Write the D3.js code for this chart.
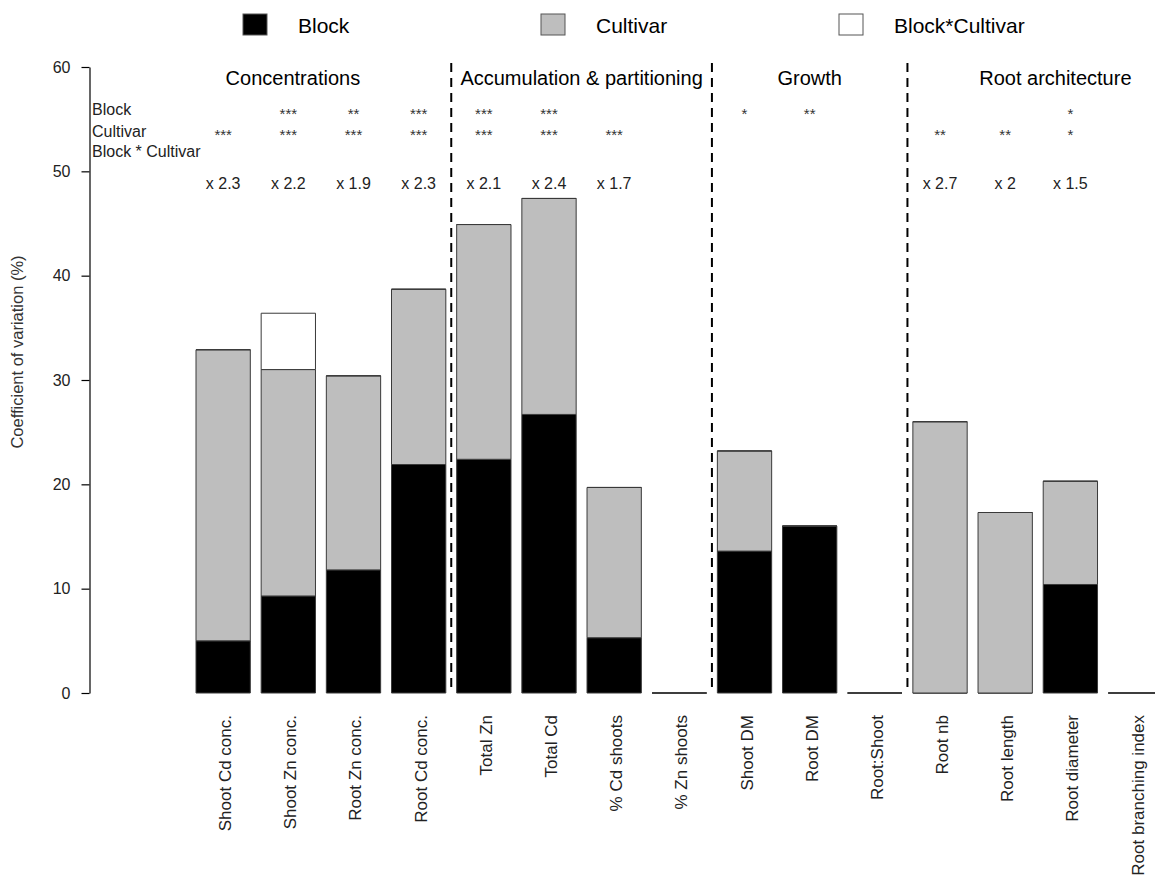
<!DOCTYPE html>
<html>
<head>
<meta charset="utf-8">
<script src="https://cdn.jsdelivr.net/npm/d3@7"></script>
<style>
  html, body { margin: 0; padding: 0; background: #fff; }
  svg { display: block; font-family: "Liberation Sans", Arial, sans-serif; }
</style>
</head>
<body>
<svg id="chart" width="1155" height="880"></svg>
<script>
// ---------- data ----------
const categories = ["Shoot Cd conc.", "Shoot Zn conc.", "Root Zn conc.", "Root Cd conc.",
  "Total Zn", "Total Cd", "% Cd shoots", "% Zn shoots",
  "Shoot DM", "Root DM", "Root:Shoot",
  "Root nb", "Root length", "Root diameter", "Root branching index"];
const blockCV       = [5.0, 9.3, 11.8, 21.9, 22.4, 26.7, 5.3, 0, 13.6, 16.0, 0, 0, 0, 10.4, 0];
const cultivarCV    = [27.9, 21.7, 18.6, 16.8, 22.5, 20.7, 14.4, 0, 9.6, 0, 0, 26.0, 17.3, 9.9, 0];
const interactionCV = [0, 5.4, 0, 0, 0, 0, 0, 0, 0, 0, 0, 0, 0, 0, 0];
const blockSig      = ["", "***", "**", "***", "***", "***", "", "", "*", "**", "", "", "", "*", ""];
const cultivarSig   = ["***", "***", "***", "***", "***", "***", "***", "", "", "", "", "**", "**", "*", ""];
const foldChange    = ["x 2.3", "x 2.2", "x 1.9", "x 2.3", "x 2.1", "x 2.4", "x 1.7", "", "", "", "", "x 2.7", "x 2", "x 1.5", ""];
const groupNames    = ["Concentrations", "Accumulation & partitioning", "Growth", "Root architecture"];
const groupSizes    = [4, 4, 3, 4];
const seriesNames   = ["Block", "Cultivar", "Block*Cultivar"];
const seriesColors  = ["#000000", "#bebebe", "#ffffff"];
const rowLabels     = ["Block", "Cultivar", "Block * Cultivar"];
const yTicks        = [0, 10, 20, 30, 40, 50, 60];

// ---------- layout ----------
const svg = d3.select("#chart");
const step = 65.17;
const x = d3.scaleBand()
  .domain(categories)
  .range([196, 196 + step * (categories.length - 1 / 6)])
  .paddingInner(1 / 6)
  .paddingOuter(0);
const y = d3.scaleLinear().domain([0, 60]).range([693, 67]);
const cx = i => x(categories[i]) + x.bandwidth() / 2;
const gap = x.step() - x.bandwidth();

// ---------- stacked bars ----------
const rows = categories.map((c, i) => ({
  cat: c, Block: blockCV[i], Cultivar: cultivarCV[i], "Block*Cultivar": interactionCV[i]
}));
const stacked = d3.stack().keys(seriesNames)(rows);
stacked.forEach((layer, si) => {
  svg.append("g").selectAll("path").data(layer).join("path")
    .attr("d", d => {
      const x0 = x(d.data.cat), w = x.bandwidth();
      const y0 = y(d[0]), y1 = y(d[1]);
      return `M${x0},${y0}H${x0 + w}V${y1}H${x0}Z`;
    })
    .attr("fill", seriesColors[si])
    .attr("stroke", "#3a3a3a")
    .attr("stroke-width", 1);
});

// ---------- y axis ----------
const yAxis = svg.append("g")
  .attr("transform", "translate(89.5,0)")
  .call(d3.axisLeft(y).tickValues(yTicks).tickSize(8).tickPadding(11).tickSizeOuter(0));
yAxis.select(".domain").attr("stroke", "#000").attr("stroke-width", 1.2);
yAxis.selectAll(".tick line").attr("stroke", "#000").attr("stroke-width", 1.2);
yAxis.selectAll(".tick text").attr("font-size", 16).attr("fill", "#222")
  .attr("font-family", "Liberation Sans, Arial, sans-serif");

svg.append("text")
  .attr("transform", `translate(23,352) rotate(-90)`)
  .attr("text-anchor", "middle")
  .attr("font-size", 16.5)
  .attr("fill", "#333")
  .text("Coefficient of variation (%)");

// ---------- group separators & titles ----------
let start = 0;
const titleOffset = [-0.43, 0, 0, 0.27];
groupNames.forEach((g, gi) => {
  const first = start, last = start + groupSizes[gi] - 1;
  const center = (cx(first) + cx(last)) / 2 + titleOffset[gi] * step;
  svg.append("text")
    .attr("x", center).attr("y", 85)
    .attr("text-anchor", "middle")
    .attr("font-size", 20)
    .attr("fill", "#000")
    .text(g);
  if (gi > 0) {
    const xl = x(categories[first]) - gap / 2;
    svg.append("line")
      .attr("x1", xl).attr("x2", xl)
      .attr("y1", 63).attr("y2", 693)
      .attr("stroke", "#000").attr("stroke-width", 2)
      .attr("stroke-dasharray", "9,6");
  }
  start += groupSizes[gi];
});

// ---------- significance rows ----------
const rowBaselines = [115, 136.5, 157];
rowLabels.forEach((r, i) => {
  svg.append("text")
    .attr("x", 92).attr("y", rowBaselines[i])
    .attr("font-size", 16)
    .attr("fill", "#222")
    .text(r);
});
svg.append("g").selectAll("text").data(blockSig).join("text")
  .attr("x", (d, i) => cx(i)).attr("y", 119)
  .attr("text-anchor", "middle").attr("font-size", 15).attr("fill", "#333")
  .text(d => d);
svg.append("g").selectAll("text").data(cultivarSig).join("text")
  .attr("x", (d, i) => cx(i)).attr("y", 139.5)
  .attr("text-anchor", "middle").attr("font-size", 15).attr("fill", "#333")
  .text(d => d);
svg.append("g").selectAll("text").data(foldChange).join("text")
  .attr("x", (d, i) => cx(i)).attr("y", 189)
  .attr("text-anchor", "middle").attr("font-size", 16).attr("fill", "#222")
  .text(d => d);

// ---------- category labels ----------
svg.append("g").selectAll("text").data(categories).join("text")
  .attr("transform", (d, i) => `translate(${cx(i)},715) rotate(-90)`)
  .attr("dy", "0.47em")
  .attr("text-anchor", "end")
  .attr("font-size", 17)
  .attr("fill", "#222")
  .text(d => d);

// ---------- legend ----------
const legendX = [243, 541, 839];
const leg = svg.append("g").selectAll("g").data(seriesNames).join("g")
  .attr("transform", (d, i) => `translate(${legendX[i]},14)`);
leg.append("rect")
  .attr("width", 24).attr("height", 21)
  .attr("fill", (d, i) => seriesColors[i])
  .attr("stroke", "#555").attr("stroke-width", 1);
leg.append("text")
  .attr("x", 55).attr("y", 19)
  .attr("font-size", 21)
  .attr("fill", "#000")
  .text(d => d);
</script>
</body>
</html>
